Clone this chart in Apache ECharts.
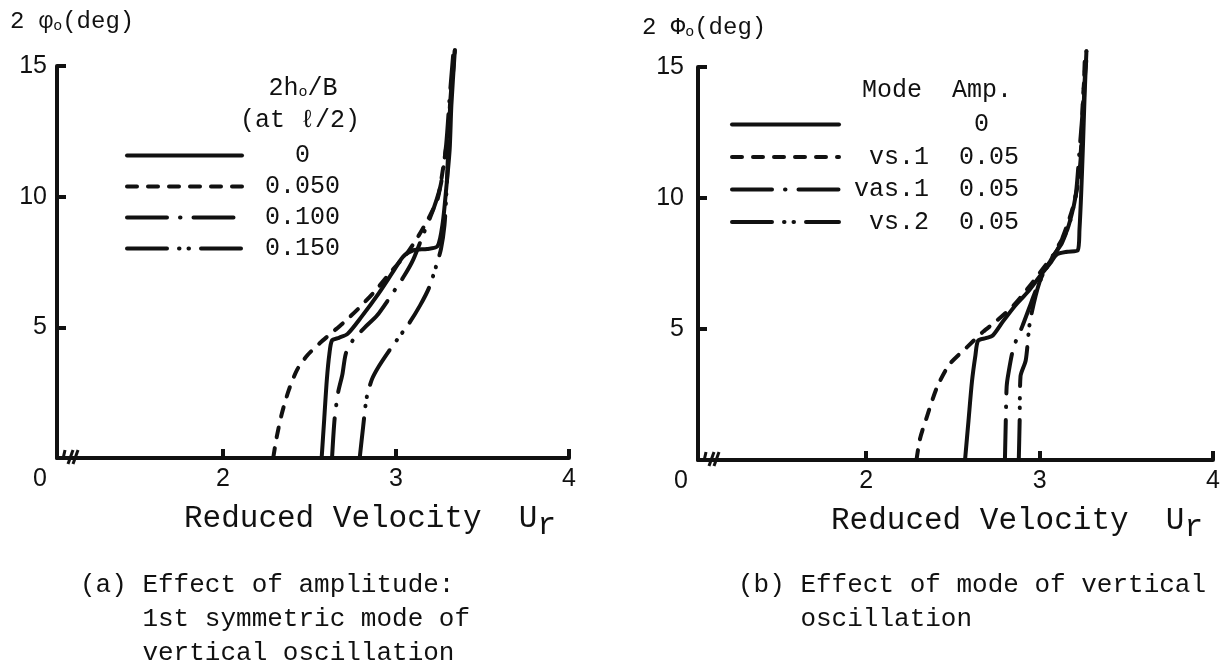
<!DOCTYPE html>
<html><head><meta charset="utf-8">
<script src="https://cdn.jsdelivr.net/npm/echarts@6.0.0/dist/echarts.min.js"></script>
<style>html,body{margin:0;padding:0;background:#fff}#c{width:1224px;height:668px}</style>
</head><body><div id="c"></div>
<script>
// ---------- data ----------
const xTickValues = [2, 3, 4];
const yTickValues = [5, 10, 15];
const xMinA = 1.04, xMinB = 1.03;      // left end of the broken axis (labelled "0")
const xMax = 4, yMax = 15;

// (a) Effect of amplitude  (2h0/B at l/2)
const namesA = ['0', '0.050', '0.100', '0.150'];
const a_0    = [[2.57,0],[2.585,1.5],[2.60,3.0],[2.615,4.0],[2.63,4.5],[2.67,4.6],[2.72,4.75],[2.80,5.4],[2.90,6.3],[2.98,7.1],[3.04,7.7],[3.10,7.95],[3.18,8.0],[3.24,8.1],[3.27,9.0],[3.29,10.3],[3.31,11.8],[3.32,13.5],[3.34,15.6]];
const a_050  = [[2.29,0],[2.31,0.8],[2.34,1.7],[2.38,2.6],[2.43,3.4],[2.49,3.95],[2.56,4.4],[2.63,4.8],[2.70,5.2],[2.78,5.7],[2.88,6.4],[2.98,7.2],[3.06,7.8],[3.13,8.5],[3.19,9.2],[3.24,9.9],[3.27,11.0],[3.30,12.4],[3.32,14.0],[3.34,15.6]];
const a_100  = [[2.63,0],[2.645,1.5],[2.665,2.5],[2.69,3.2],[2.71,4.0],[2.75,4.5],[2.82,5.0],[2.89,5.45],[2.98,6.3],[3.05,7.0],[3.10,7.6],[3.16,8.6],[3.22,9.6],[3.26,10.5],[3.29,12.0],[3.31,13.8],[3.33,15.4]];
const a_150  = [[2.79,0],[2.81,1.2],[2.83,2.3],[2.86,3.0],[2.90,3.5],[2.96,4.1],[3.02,4.65],[3.08,5.2],[3.14,5.85],[3.19,6.5],[3.23,7.3],[3.26,8.0],[3.28,8.9],[3.29,10.0],[3.30,11.5],[3.31,13.3],[3.33,15.0]];

// (b) Effect of mode of vertical oscillation  (Mode, Amp.)
const namesB = ['Amp 0', 'vs.1', 'vas.1', 'vs.2'];
const modeB  = ['', 'vs.1', 'vas.1', 'vs.2'];
const ampB   = ['0', '0.05', '0.05', '0.05'];
const b_0    = [[2.57,0],[2.59,1.5],[2.61,3.0],[2.63,4.0],[2.645,4.55],[2.69,4.65],[2.73,4.75],[2.79,5.3],[2.86,5.9],[2.93,6.4],[3.0,7.0],[3.06,7.5],[3.10,7.85],[3.16,7.95],[3.22,8.0],[3.23,8.8],[3.24,10.2],[3.25,12.0],[3.26,14.0],[3.27,15.6]];
const b_vs1  = [[2.29,0],[2.31,0.8],[2.35,1.65],[2.41,2.8],[2.48,3.65],[2.58,4.3],[2.675,4.9],[2.75,5.3],[2.85,5.9],[2.95,6.7],[3.03,7.4],[3.10,8.0],[3.15,8.8],[3.19,9.6],[3.22,10.5],[3.24,12.0],[3.25,13.8],[3.27,15.6]];
const b_vas1 = [[2.80,0],[2.805,1.5],[2.81,2.8],[2.82,3.3],[2.85,4.3],[2.90,5.1],[2.94,5.8],[2.98,6.5],[3.03,7.2],[3.08,7.8],[3.13,8.3],[3.18,9.2],[3.21,10.2],[3.23,11.8],[3.25,13.5],[3.26,15.2]];
const b_vs2  = [[2.88,0],[2.885,1.5],[2.89,3.2],[2.92,3.8],[2.945,5.3],[3.0,6.8],[3.06,7.6],[3.11,8.2],[3.16,8.8],[3.20,9.8],[3.23,11.0],[3.25,12.8],[3.26,14.5],[3.27,15.3]];

// ---------- styles ----------
const INK = '#111';
const MONO = '"Liberation Mono", "DejaVu Sans Mono", monospace';
const SANS = '"Liberation Sans", Arial, sans-serif';
const dashTypes = ['solid', [10, 11], [40, 13, 0.5, 13], [40, 12, 0.5, 9, 0.5, 12]];

function mkSeries(name, data, k, idx) {
  return {
    name, type: 'line', data, xAxisIndex: idx, yAxisIndex: idx,
    symbol: 'none', clip: false, smooth: 0.25, silent: true,
    itemStyle: { color: INK },
    lineStyle: { color: INK, width: 4, type: dashTypes[k], cap: 'round', join: 'round' }
  };
}

function mkX(gi, xmin, padLeft) {
  return {
    gridIndex: gi, type: 'value', min: xmin, max: xMax,
    splitLine: { show: false },
    axisLine: { show: true, onZero: false, lineStyle: { color: INK, width: 4 } },
    axisTick: { show: true, inside: true, length: 9, customValues: xTickValues, lineStyle: { color: INK, width: 4 } },
    axisLabel: {
      customValues: [xmin].concat(xTickValues), showMinLabel: true, showMaxLabel: true,
      margin: 9, color: INK, fontFamily: SANS, fontSize: 25,
      formatter: v => (v < 1.5 ? '{z|0}' : String(v)),
      rich: { z: { fontFamily: SANS, fontSize: 25, color: INK, padding: [0, 34, 0, 0] } }
    },
    name: 'Reduced Velocity  U{r|r}', nameLocation: 'middle', nameGap: 38,
    nameTextStyle: {
      fontFamily: MONO, fontSize: 31, color: INK, padding: [0, 0, 0, padLeft],
      rich: { r: { fontFamily: MONO, fontSize: 31, color: INK, padding: [14, 0, 0, 0] } }
    }
  };
}
function mkY(gi, margin) {
  return {
    gridIndex: gi, type: 'value', min: 0, max: yMax, interval: 5,
    splitLine: { show: false },
    axisLine: { show: true, onZero: false, lineStyle: { color: INK, width: 4 } },
    axisTick: { show: true, inside: true, length: 9, customValues: yTickValues, lineStyle: { color: INK, width: 4 } },
    axisLabel: { customValues: yTickValues, margin, color: INK, fontFamily: SANS, fontSize: 25 }
  };
}

const legendTextA = n => { const pad = Math.floor((5 - n.length) / 2); return ' '.repeat(pad) + n; };
const legendTextB = n => { const i = namesB.indexOf(n); return modeB[i].padStart(5, ' ') + '  ' + (ampB[i] === '0' ? ' 0' : ampB[i]); };

const chart = echarts.init(document.getElementById('c'), null, { renderer: 'canvas' });
const txt = (x, y, text, extra) => ({
  type: 'text', x, y, silent: true,
  style: Object.assign({ text, fill: INK, fontFamily: MONO, fontSize: 25, verticalAlign: 'middle' }, extra || {})
});
const subRich = { s: { fontFamily: MONO, fontSize: 15, fill: INK, color: INK, padding: [9, 0, 0, 0] } };

const legendCommon = {
  orient: 'vertical', itemHeight: 14, selectedMode: false,
  itemStyle: { opacity: 0, borderWidth: 0 },
  lineStyle: { width: 4, color: INK, cap: 'round' }
};

const option = {
  backgroundColor: '#fff',
  animation: false,
  grid: [
    { left: 57, top: 66, width: 512, height: 392 },
    { left: 698, top: 67, width: 515, height: 393 }
  ],
  xAxis: [mkX(0, xMinA, 114), mkX(1, xMinB, 123)],
  yAxis: [mkY(0, 10), mkY(1, 14)],
  legend: [
    Object.assign({
      data: namesA, left: 120, top: 138, itemWidth: 115, itemGap: 6, formatter: legendTextA,
      textStyle: { fontFamily: MONO, fontSize: 25, color: INK, lineHeight: 25, padding: [0, 0, 0, 18] }
    }, legendCommon),
    Object.assign({
      data: namesB, left: 725, top: 107, itemWidth: 107, itemGap: 7.5, formatter: legendTextB,
      textStyle: { fontFamily: MONO, fontSize: 25, color: INK, lineHeight: 25, padding: [0, 0, 0, 10] }
    }, legendCommon)
  ],
  series: [
    mkSeries(namesA[0], a_0, 0, 0), mkSeries(namesA[1], a_050, 1, 0),
    mkSeries(namesA[2], a_100, 2, 0), mkSeries(namesA[3], a_150, 3, 0),
    mkSeries(namesB[0], b_0, 0, 1), mkSeries(namesB[1], b_vs1, 1, 1),
    mkSeries(namesB[2], b_vas1, 2, 1), mkSeries(namesB[3], b_vs2, 3, 1)
  ]
};
chart.setOption(option);

// annotations: axis titles, legend headers, captions, axis-break marks
const pA = chart.convertToPixel({ xAxisIndex: 0, yAxisIndex: 0 }, [xMinA, 0]);
const pB = chart.convertToPixel({ xAxisIndex: 1, yAxisIndex: 1 }, [xMinB, 0]);
function breakMark(p) {
  const x = p[0], y = p[1];
  return [
    { type: 'rect', shape: { x: x + 7, y: y - 4, width: 12, height: 8 }, style: { fill: '#fff' }, silent: true },
    { type: 'line', shape: { x1: x + 6, y1: y + 1, x2: x + 8, y2: y - 8 }, style: { stroke: INK, lineWidth: 3 }, silent: true },
    { type: 'line', shape: { x1: x + 11, y1: y + 6, x2: x + 16, y2: y - 8 }, style: { stroke: INK, lineWidth: 3 }, silent: true },
    { type: 'line', shape: { x1: x + 16, y1: y + 6, x2: x + 21, y2: y - 8 }, style: { stroke: INK, lineWidth: 3 }, silent: true }
  ];
}
chart.setOption({
  graphic: [
    txt(10, 22, '2 φ{s|o}(deg)', { fontSize: 24, rich: subRich }),
    txt(642, 28, '2 Φ{s|o}(deg)', { fontSize: 24, rich: subRich }),
    txt(303, 88, '2h{s|o}/B', { align: 'center', rich: subRich }),
    txt(300, 120, '(at ℓ/2)', { align: 'center' }),
    txt(862, 90, 'Mode  Amp.'),
    txt(80, 568, '(a) Effect of amplitude:\n    1st symmetric mode of\n    vertical oscillation', { fontSize: 26, lineHeight: 34, verticalAlign: 'top' }),
    txt(738, 568, '(b) Effect of mode of vertical\n    oscillation', { fontSize: 26, lineHeight: 34, verticalAlign: 'top' })
  ].concat(breakMark(pA), breakMark(pB))
});
</script>
</body></html>
